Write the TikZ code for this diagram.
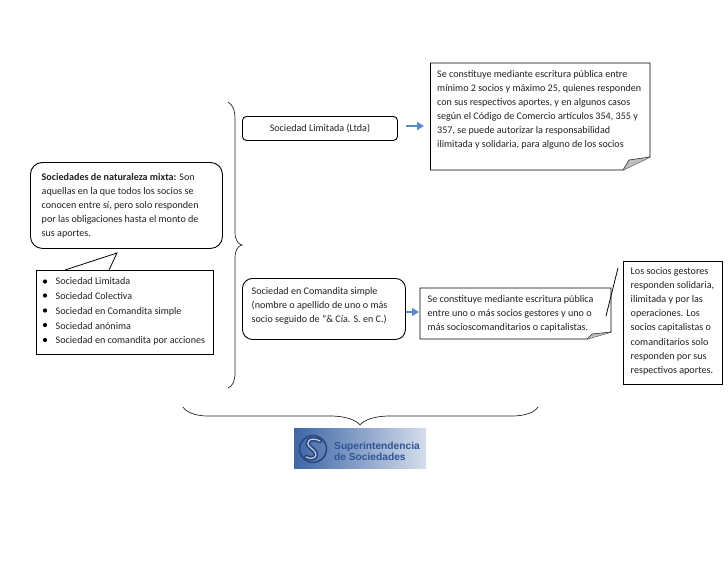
\documentclass[tikz,border=0pt]{standalone}
\usepackage{fontspec}
\setmainfont{Carlito}
\newfontfamily\logofont{Liberation Sans}
\usetikzlibrary{arrows.meta,shadings}
\definecolor{inkc}{HTML}{222222}
\definecolor{arrowc}{HTML}{5B8BC6}
\definecolor{foldc}{HTML}{BDBDBD}
\definecolor{logoa}{HTML}{3E66A6}
\definecolor{logob}{HTML}{D5DEEC}
\definecolor{logot}{HTML}{2F5396}
\tikzset{
  boxline/.style={draw=black,line width=0.9pt},
  roundbox/.style={boxline,rounded corners=#1},
  txt/.style={inner sep=0pt,anchor=north west,align=left,text=inkc,font=\fontsize{10.1}{14}\selectfont},
  blockarrow/.style={draw=arrowc,line width=2.4pt,-{Triangle[length=7pt,width=8pt]}},
  bracec/.style={draw=black!85,line width=0.7pt},
  tailc/.style={draw=black,line width=0.8pt},
  foldp/.style={draw=black!80,fill=foldc,line width=0.6pt},
  boxnode/.style={inner sep=0pt,anchor=north west}
}
\begin{document}
\begin{tikzpicture}[x=1pt,y=-1pt]
\useasboundingbox (0,0) rectangle (728,563);
\fill[white] (0,0) rectangle (728,563);
\coordinate (n1nw) at (430.5,63);
\coordinate (n2nw) at (420,288);

% folded note 1
\draw[boxline] (430.5,63) -- (650,63) -- (650,157) -- (623,170) -- (430.5,170) -- cycle;
\fill[foldc] (650,157) -- (629,160) -- (623,170) -- cycle;
\draw[foldp] (650,157) -- (629,160) -- (623,170);
\node[txt] (t1) at (437,70) {Se constituye mediante escritura pública entre\\mínimo 2 socios y máximo 25, quienes responden\\con sus respectivos aportes, y en algunos casos\\según el Código de Comercio artículos 354, 355 y\\357, se puede autorizar la responsabilidad\\ilimitada y solidaria, para alguno de los socios};

% folded note 2
\draw[boxline] (420,288) -- (611,288) -- (611,332) -- (587,339) -- (420,339) -- cycle;
\fill[foldc] (611,332) -- (592,334) -- (587,339) -- cycle;
\draw[foldp] (611,332) -- (592,334) -- (587,339);
\node[txt] (t2) at (427.5,295) {Se constituye mediante escritura pública\\entre uno o más socios gestores y uno o\\más socioscomanditarios o capitalistas.};

% callout
\node[boxnode,roundbox=12pt,minimum width=192pt,minimum height=86pt] (callout) at (30,162) {};
\node[txt] (t3) at (41.5,173) {\textbf{Sociedades de naturaleza mixta:} Son\\aquellas en la que todos los socios se\\conocen entre sí, pero solo responden\\por las obligaciones hasta el monto de\\sus aportes.};

% list box
\node[boxnode,boxline,minimum width=177pt,minimum height=84pt] (listbox) at (36,270) {};
\coordinate (tailtip) at (117,253);
\draw[tailc] (65,270) -- (tailtip) -- (109,270);
\foreach \yy in {281.5,295.5,310.5,325,340}{\fill[black] (45,\yy) circle (2.1pt);}
\node[txt] (t4) at (55.5,277.5) {Sociedad Limitada\\[0.8pt]Sociedad Colectiva\\[0.8pt]Sociedad en Comandita simple\\[0.8pt]Sociedad anónima\\[0.8pt]Sociedad en comandita por acciones};

% middle boxes
\node[boxnode,roundbox=4pt,minimum width=155pt,minimum height=24pt,font=\fontsize{10.1}{14}\selectfont,text=inkc] (ltda) at (242,116) {Sociedad Limitada (Ltda)};
\node[boxnode,roundbox=10pt,minimum width=163pt,minimum height=61pt] (csimple) at (242,278) {};
\node[txt] (t5) at (251.5,287.5) {Sociedad en Comandita simple\\(nombre o apellido de uno o más\\socio seguido de "\& Cía. S. en C.)};

% right box
\node[boxnode,boxline,minimum width=99pt,minimum height=123pt] (rbox) at (623,261) {};
\node[txt,font=\fontsize{10.1}{14.2}\selectfont] (t6) at (630.5,267) {Los socios gestores\\responden solidaria,\\ilimitada y por las\\operaciones. Los\\socios capitalistas o\\comanditarios solo\\responden por sus\\respectivos aportes.};
\coordinate (rt1) at (618,268);
\coordinate (rt2) at (606,316);
\draw[tailc] (rt1) -- (rt2);

% arrows
\coordinate (n1w) at (430.5,126);
\coordinate (n2w) at (420,312);
\draw[blockarrow,shorten >=6.5pt] (ltda.east |- n1w) ++(8,0) -- (n1w);
\draw[blockarrow,shorten >=1pt] (csimple.east |- n2w) -- (n2w);

% vertical brace
\draw[bracec] (228,102) .. controls (233,105) and (235,110) .. (235,120) -- (235,232) .. controls (235,240) and (238,244) .. (242,245) .. controls (238,246) and (235,250) .. (235,258) -- (235,372) .. controls (235,381) and (233,386) .. (228,388);
% bottom brace
\draw[bracec] (183,407) .. controls (186,412) and (195,416) .. (208,416) -- (330,416) .. controls (346,416) and (356,420) .. (360,425) .. controls (364,420) and (374,416) .. (390,416) -- (512,416) .. controls (526,416) and (535,412) .. (538,407);

% logo
\node[boxnode,minimum width=132pt,minimum height=40pt,left color=logoa,right color=logob] (logo) at (294,428) {};
\draw[logot!85!black,line width=1.5pt] (313,449) circle (13.5pt);
\draw[logot!85!black,line width=4.6pt,line cap=round] (320,441) .. controls (311,436) and (303,442) .. (311,448) .. controls (321,455) and (314,461) .. (306,457);
\draw[white!70!logoa,line width=1.2pt,line cap=round] (320,441) .. controls (311,436) and (303,442) .. (311,448) .. controls (321,455) and (314,461) .. (306,457);
\node[inner sep=0pt,anchor=west,align=left,text=logot,font=\logofont\bfseries\fontsize{10.2}{11}\selectfont] (logot) at (334,451) {Superintendencia\\de Sociedades};
\end{tikzpicture}
\end{document}
